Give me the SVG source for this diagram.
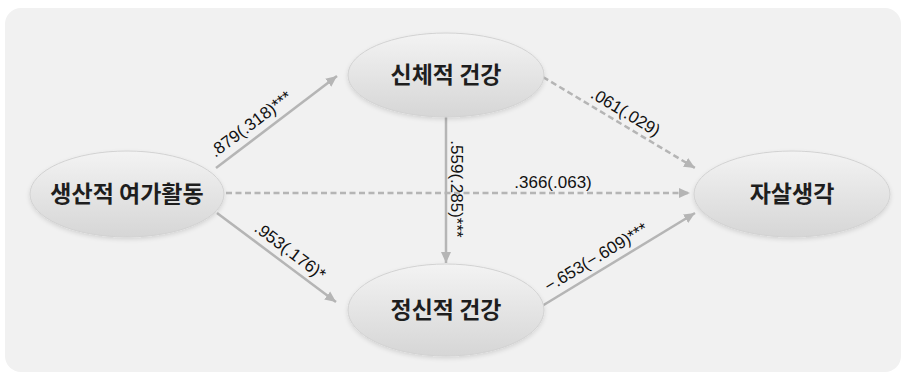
<svg xmlns="http://www.w3.org/2000/svg" width="906" height="380" viewBox="0 0 906 380">
<defs>
<linearGradient id="eg" x1="0" y1="0" x2="0" y2="1">
<stop offset="0" stop-color="#f3f3f3"/>
<stop offset="1" stop-color="#d6d6d6"/>
</linearGradient>
<filter id="sh" x="-20%" y="-20%" width="140%" height="150%">
<feDropShadow dx="0" dy="2" stdDeviation="2" flood-color="#000" flood-opacity="0.12"/>
</filter>
<marker id="ah" markerUnits="userSpaceOnUse" markerWidth="12" markerHeight="12" refX="11" refY="6" orient="auto">
<path d="M0,1 L11,6 L0,11 z" fill="#b5b5b5"/>
</marker>
</defs>
<style>
.node ellipse{fill:url(#eg);stroke:#d2d2d2;stroke-width:1;filter:url(#sh)}
.node text{font-family:"Noto Sans CJK KR","Noto Sans",sans-serif;font-size:23px;font-weight:700;fill:#1e1e1e;text-anchor:middle}
.edge{stroke:#b5b5b5;stroke-width:2.5;fill:none;marker-end:url(#ah)}
.dash{stroke-dasharray:6 3.5}
.lbl{font-family:"Liberation Sans",Arial,sans-serif;font-size:17px;fill:#111;text-anchor:middle}
</style>
<rect x="5" y="8" width="896" height="364" rx="16" fill="#f1f1f1"/>
<g id="connectors">
<line class="edge" x1="216" y1="168" x2="337" y2="76"/>
<line class="edge" x1="446" y1="117" x2="446" y2="263"/>
<line class="edge dash" x1="226" y1="193" x2="690" y2="193"/>
<line class="edge dash" x1="543" y1="77" x2="695" y2="168"/>
<line class="edge" x1="217" y1="213" x2="336" y2="302"/>
<line class="edge" x1="542" y1="306" x2="695" y2="213"/>
<text class="lbl" transform="translate(259,135) rotate(-37)" y="-8">.879(.318)***</text>
<text class="lbl" transform="translate(446,189) rotate(90)" y="-5">.559(.285)***</text>
<text class="lbl" x="553" y="188">.366(.063)</text>
<text class="lbl" transform="translate(619,123) rotate(31)" y="-7">.061(.029)</text>
<text class="lbl" transform="translate(282,262) rotate(37)" y="-8">.953(.176)*</text>
<text class="lbl" transform="translate(603,269) rotate(-31)" y="-8">−.653(−.609)***</text>
</g>
<g id="n1" class="node"><ellipse cx="127" cy="194" rx="97" ry="43"/><text x="127" y="202">생산적 여가활동</text></g>
<g id="n2" class="node"><ellipse cx="446" cy="75" rx="98" ry="42"/><text x="446" y="83">신체적 건강</text></g>
<g id="n3" class="node"><ellipse cx="446" cy="310" rx="98" ry="46"/><text x="446" y="318">정신적 건강</text></g>
<g id="n4" class="node"><ellipse cx="792" cy="194" rx="98" ry="43"/><text x="792" y="202">자살생각</text></g>
</svg>
